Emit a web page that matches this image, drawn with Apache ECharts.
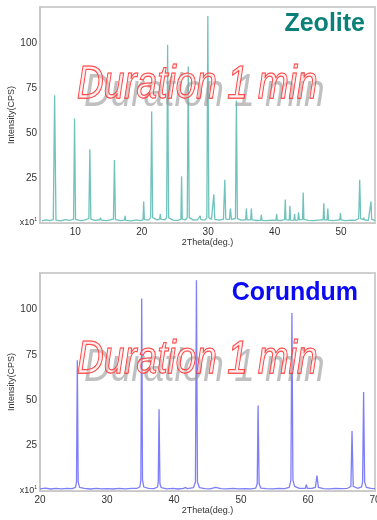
<!DOCTYPE html>
<html>
<head>
<meta charset="utf-8">
<script src="https://cdn.jsdelivr.net/npm/echarts@6/dist/echarts.min.js"></script>
<style>
  html, body { margin: 0; padding: 0; background: #fff; }
  #chart { width: 377px; height: 520px; }
</style>
</head>
<body>
<div id="chart"></div>
<script>
// zeolite scan, [2theta, cps x10]
const zeolitePattern = [
  [5, 1.2], [5.6, 1.8], [6.2, 1.3], [6.7, 1.9], [6.9, 71], [7.1, 1.6], [7.8, 1.2], [8.5, 1.9],
  [9.2, 1.4], [9.75, 2.2], [9.9, 58], [10.05, 2.0], [10.8, 1.3], [11.5, 1.7], [12.05, 2.5], [12.2, 41],
  [12.35, 2.2], [13.0, 1.4], [13.7, 1.8], [13.8, 3], [13.9, 1.6], [14.7, 1.3], [15.3, 1.8], [15.75, 2.1],
  [15.9, 35], [16.05, 1.9], [16.8, 1.3], [17.4, 1.6], [17.5, 4], [17.6, 1.5], [18.4, 1.2], [19.2, 1.7],
  [19.8, 1.3], [20.2, 1.8], [20.3, 12], [20.4, 1.9], [21.0, 1.6], [21.35, 3], [21.5, 62], [21.65, 3],
  [22.3, 1.7], [22.7, 2.1], [22.8, 5], [22.9, 2], [23.5, 1.8], [23.75, 3], [23.9, 99], [24.05, 3],
  [24.7, 1.6], [25.4, 1.5], [25.9, 2], [26.0, 26], [26.1, 2.2], [26.6, 1.8], [26.85, 3], [27.0, 87],
  [27.15, 3], [27.8, 1.6], [28.4, 1.8], [28.8, 4], [28.9, 1.9], [29.5, 1.6], [29.8, 3], [29.95, 115],
  [30.1, 3], [30.5, 2], [30.85, 16], [31.0, 2], [31.7, 1.6], [32.3, 2.2], [32.5, 24], [32.65, 2.2],
  [33.2, 2], [33.35, 8], [33.5, 2], [34.1, 2.5], [34.25, 68], [34.4, 2.4], [35.0, 1.6], [35.65, 1.8],
  [35.75, 8], [35.85, 1.8], [36.4, 1.7], [36.5, 8], [36.6, 1.7], [37.3, 1.4], [37.9, 1.5], [38.0, 4.5],
  [38.1, 1.5], [38.8, 1.3], [39.6, 1.6], [40.2, 1.5], [40.3, 5], [40.4, 1.5], [41.0, 1.4], [41.5, 1.9],
  [41.6, 13], [41.7, 1.9], [42.2, 1.6], [42.3, 9.5], [42.4, 1.6], [42.9, 1.5], [43.0, 5], [43.1, 1.5],
  [43.5, 1.6], [43.6, 6], [43.7, 1.7], [44.2, 2], [44.3, 17], [44.4, 2], [45.1, 1.5], [45.8, 1.3],
  [46.6, 1.6], [47.3, 1.8], [47.4, 11], [47.5, 1.8], [47.9, 1.6], [48.0, 8], [48.1, 1.6], [48.8, 1.3],
  [49.4, 1.6], [49.8, 1.8], [49.9, 5.5], [50.0, 1.7], [50.7, 1.3], [51.5, 1.6], [52.1, 1.5], [52.65, 2.5],
  [52.8, 24], [52.95, 2.4], [53.3, 1.8], [53.4, 3], [53.5, 1.8], [54.1, 1.5], [54.4, 2], [54.5, 12],
  [54.6, 2], [55.1, 1.4]
];

// corundum scan
const corundumPattern = [
  [20, 1.2], [20.8, 1.6], [21.6, 1.1], [22.4, 1.5], [23.2, 1.2], [24.0, 1.4], [24.8, 1.3], [25.3, 2.0],
  [25.45, 5], [25.57, 72], [25.7, 5], [25.9, 2], [26.6, 1.4], [27.5, 1.1], [28.4, 1.5], [29.2, 1.2],
  [30.0, 1.3], [30.9, 1.1], [31.8, 1.5], [32.7, 1.2], [33.6, 1.4], [34.5, 1.5], [34.9, 2.2], [35.05, 6],
  [35.18, 106], [35.3, 6], [35.5, 2.2], [36.2, 1.4], [37.0, 1.3], [37.55, 2.2], [37.65, 5], [37.77, 45],
  [37.9, 4], [38.1, 1.8], [38.9, 1.2], [39.8, 1.4], [40.6, 1.1], [41.4, 1.5], [41.7, 1.9], [42.0, 1.3],
  [42.9, 1.8], [43.2, 5], [43.35, 116], [43.5, 5], [43.8, 1.8], [44.6, 1.3], [45.4, 1.2], [46.2, 2],
  [47.0, 1.3], [47.9, 1.2], [48.8, 1.4], [49.7, 1.2], [50.6, 1.3], [51.5, 1.2], [52.2, 1.6], [52.42, 4],
  [52.55, 47], [52.7, 4], [52.95, 1.6], [53.8, 1.3], [54.7, 1.2], [55.6, 1.4], [56.5, 1.3], [57.2, 2],
  [57.45, 6], [57.6, 98], [57.75, 6], [58.0, 2.5], [58.7, 1.4], [59.6, 1.5], [59.75, 3.5], [59.9, 1.5],
  [60.6, 1.4], [61.1, 2], [61.34, 8.5], [61.55, 2], [62.3, 1.3], [63.2, 1.2], [64.1, 1.4], [65.0, 1.3],
  [65.9, 1.5], [66.4, 2.5], [66.57, 33], [66.75, 2.5], [67.4, 1.5], [68.0, 2.3], [68.15, 5], [68.3, 54.5],
  [68.45, 5], [68.7, 2], [69.4, 1.4], [70, 1.3]
];

const zeoliteTicks = [10, 20, 30, 40, 50];
const intensityTicks = [0, 25, 50, 75, 100];
const watermark = 'Duration 1 min';

const chart = echarts.init(document.getElementById('chart'));
const font = '"Liberation Sans", Arial, sans-serif';

const yAxisBase = (gridIndex) => ({
  gridIndex: gridIndex,
  type: 'value',
  min: 0,
  max: 120,
  name: 'Intensity(CPS)',
  nameLocation: 'middle',
  nameGap: 24,
  nameMoveOverlap: false,
  nameRotate: 90,
  nameTextStyle: { fontSize: 9, color: '#333', fontFamily: font },
  axisLine: { show: true, lineStyle: { color: '#c8c8c8', width: 2 } },
  axisTick: { show: false },
  splitLine: { show: false },
  axisLabel: {
    customValues: intensityTicks,
    fontSize: 10,
    color: '#333',
    fontFamily: font,
    margin: 3,
    formatter: function (v) {
      return v === 0 ? '{a|x10}{s|1}' : String(v);
    },
    rich: {
      a: { fontSize: 9, color: '#333', fontFamily: font },
      s: { fontSize: 5, color: '#333', fontFamily: font, verticalAlign: 'top', padding: [0, 0, 6, 0] }
    }
  }
});

const xAxisBase = (gridIndex) => ({
  gridIndex: gridIndex,
  type: 'value',
  name: '2Theta(deg.)',
  nameLocation: 'middle',
  nameGap: 15,
  nameMoveOverlap: false,
  nameTextStyle: { fontSize: 9, color: '#333', fontFamily: font },
  axisLine: { show: true, onZero: false, lineStyle: { color: '#c8c8c8', width: 1 } },
  axisTick: { show: false },
  splitLine: { show: false },
  axisLabel: { fontSize: 10, color: '#333', fontFamily: font, margin: 4 }
});

const markText = (x, y, fill, stroke) => ({
  type: 'text',
  x: x,
  y: y,
  scaleY: 1.25,
  silent: true,
  z: 100,
  style: {
    text: watermark,
    font: 'italic 37px ' + font,
    fill: fill,
    stroke: stroke,
    lineWidth: stroke ? 1 : 0
  }
});

chart.setOption({
  animation: false,
  grid: [
    { left: 40, right: 2, top: 7, height: 216, show: true, borderColor: '#cfcfcf', borderWidth: 2, outerBoundsMode: 'none' },
    { left: 40, right: 2, top: 273, height: 218, show: true, borderColor: '#cfcfcf', borderWidth: 2, outerBoundsMode: 'none' }
  ],
  title: [
    {
      text: 'Zeolite', right: 12, top: 12, padding: 0,
      textStyle: { color: '#0b8078', fontSize: 25, fontWeight: 'bold', fontFamily: font }
    },
    {
      text: 'Corundum', right: 19, top: 281, padding: 0,
      textStyle: { color: '#0a0af5', fontSize: 25, fontWeight: 'bold', fontFamily: font }
    }
  ],
  xAxis: [
    Object.assign(xAxisBase(0), {
      min: 4.7, max: 55.1,
      axisLabel: { customValues: zeoliteTicks, fontSize: 10, color: '#333', fontFamily: font, margin: 4 }
    }),
    Object.assign(xAxisBase(1), { min: 20, max: 70, interval: 10 })
  ],
  yAxis: [yAxisBase(0), yAxisBase(1)],
  series: [
    {
      name: 'Zeolite',
      type: 'line',
      xAxisIndex: 0,
      yAxisIndex: 0,
      showSymbol: false,
      lineStyle: { color: '#6fc3bc', width: 1.3 },
      data: zeolitePattern
    },
    {
      name: 'Corundum',
      type: 'line',
      xAxisIndex: 1,
      yAxisIndex: 1,
      showSymbol: false,
      lineStyle: { color: '#7e7ef8', width: 1.3 },
      data: corundumPattern
    }
  ],
  graphic: [
    markText(84, 70, 'rgba(150,150,150,0.6)', null),
    markText(77, 62, 'rgba(255,215,215,0.35)', '#ff2a2a'),
    markText(84, 345, 'rgba(150,150,150,0.6)', null),
    markText(77, 337, 'rgba(255,215,215,0.35)', '#ff2a2a')
  ]
});
</script>
</body>
</html>
